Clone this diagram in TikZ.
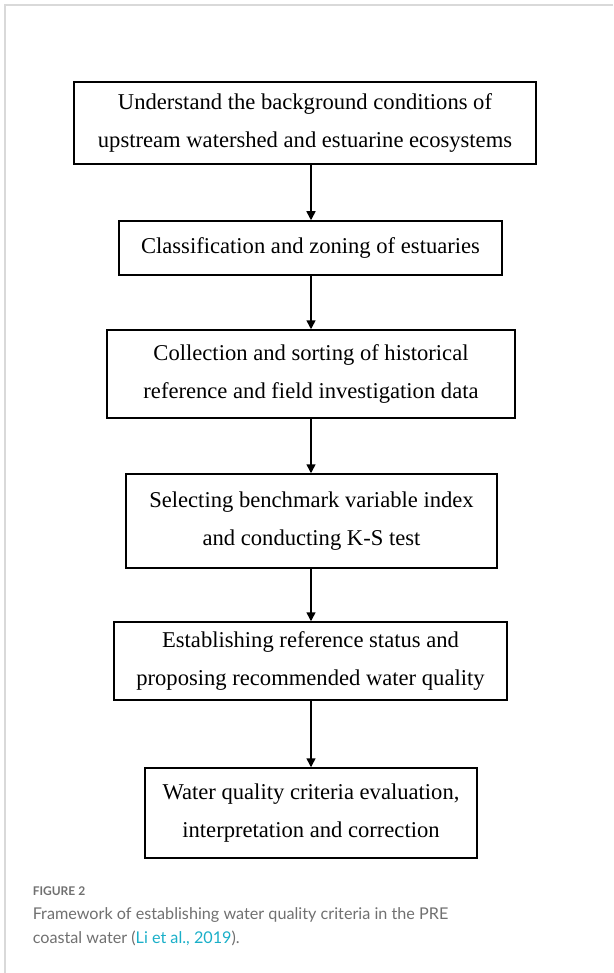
\documentclass[tikz,border=0pt]{standalone}
\usepackage{fontspec}
\setmainfont{Liberation Serif}
\newfontfamily\capfont{Lato}
\usetikzlibrary{arrows.meta}
\definecolor{framegray}{HTML}{D9D9D9}
\definecolor{capgray}{HTML}{707070}
\definecolor{linkcyan}{HTML}{1AAFC8}
\begin{document}
\begin{tikzpicture}[x=1pt,y=-1pt,line width=1.5pt]
        \tikzset{box/.style={draw,rectangle,align=center,inner sep=0pt,font=\fontsize{22.6}{38}\selectfont},
                 arr/.style={-{Triangle[length=9pt,width=9pt]}}};
        \useasboundingbox (0,0) rectangle (613,973);
        \draw[framegray,line width=2pt] (613,5) -- (5,5) -- (5,973);
        \node[box,minimum width=462,minimum height=82] (b1) at (305,123) {Understand the background conditions of\\upstream watershed and estuarine ecosystems};
        \node[box,minimum width=383,minimum height=54] (b2) at (310.5,248) {Classification and zoning of estuaries};
        \node[box,minimum width=408,minimum height=88] (b3) at (311,374) {Collection and sorting of historical\\reference and field investigation data};
        \node[box,minimum width=371,minimum height=94] (b4) at (311.5,521) {Selecting benchmark variable index\\and conducting K-S test};
        \node[box,minimum width=393,minimum height=78] (b5) at (310.5,661) {Establishing reference status and\\proposing recommended water quality};
        \node[box,minimum width=332,minimum height=90] (b6) at (311,813) {Water quality criteria evaluation,\\interpretation and correction};
        \draw[arr] (b1.south -| b3) -- (b2.north -| b3);
        \draw[arr] (b2.south -| b3) -- (b3.north);
        \draw[arr] (b3.south) -- (b4.north -| b3);
        \draw[arr] (b4.south -| b3) -- (b5.north -| b3);
        \draw[arr] (b5.south -| b3) -- (b6.north);
        % caption
        \node[anchor=base west,inner sep=0pt,text=capgray,font=\capfont\bfseries\fontsize{12}{16}\selectfont] (fig) at (32,895) {FIGURE 2};
        \node[anchor=base west,inner sep=0pt,text=capgray,font=\capfont\fontsize{16.2}{25}\selectfont] (cap1) at (32,919) {Framework of establishing water quality criteria in the PRE};
        \node[anchor=base west,inner sep=0pt,text=capgray,font=\capfont\fontsize{16.2}{25}\selectfont] (cap2) at (32,943) {coastal water (\textcolor{linkcyan}{Li et al., 2019}).};
      \end{tikzpicture}
\end{document}
